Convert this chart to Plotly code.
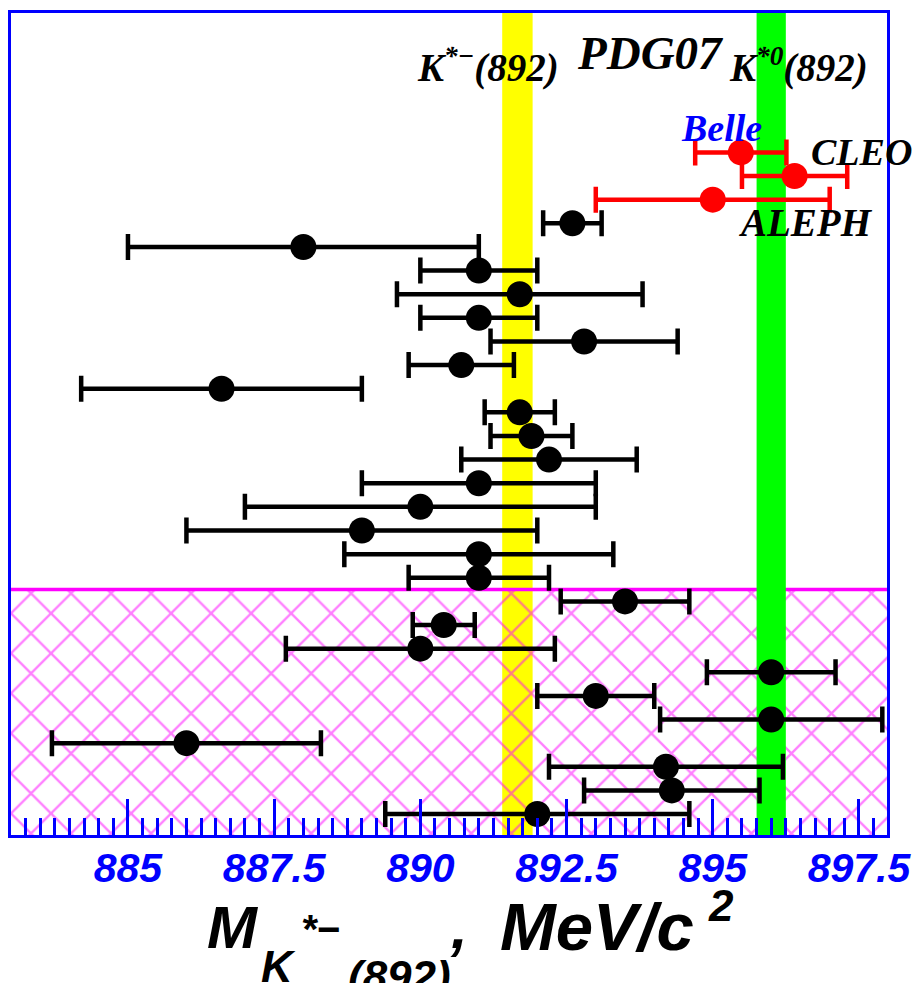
import plotly.graph_objects as go

# ---------------- data (MeV/c^2) ----------------
# PDG 2007 averages
pdg_charged_mass = 891.66
pdg_charged_err = 0.26
pdg_neutral_mass = 896.00
pdg_neutral_err = 0.25

# tau-decay measurements (red), listed top to bottom
tau_labels = ["Belle", "CLEO", "ALEPH"]
tau_mass = [895.48, 896.40, 895.00]
tau_err = [0.78, 0.90, 2.00]

# other K*(892)- mass measurements (black), listed top to bottom
other_mass = [892.6, 888.0, 891.0, 891.7, 891.0, 892.8, 890.7, 886.6, 891.7,
              891.9, 892.2, 891.0, 890.0, 889.0, 891.0, 891.0, 893.5, 890.4,
              890.0, 896.0, 893.0, 896.0, 886.0, 894.2, 894.3, 892.0]
other_err = [0.5, 3.0, 1.0, 2.1, 1.0, 1.6, 0.9, 2.4, 0.6,
             0.7, 1.5, 2.0, 3.0, 3.0, 2.3, 1.2, 1.1, 0.53,
             2.3, 1.1, 1.0, 1.9, 2.3, 2.0, 1.5, 2.6]

# number of rows below the magenta line (hatched region)
n_hatched_rows = 10

x_tick_vals = [885, 887.5, 890, 892.5, 895, 897.5]
x_tick_text = ["885", "887.5", "890", "892.5", "895", "897.5"]

# ---------------- layout helpers ----------------
n_rows = len(tau_mass) + len(other_mass)
rows = list(range(n_rows - 1, -1, -1))
tau_rows = rows[:len(tau_mass)]
other_rows = rows[len(tau_mass):]

X_RANGE = [883.0, 897.98]
Y_RANGE = [-0.886, 33.90]
hatch_top = n_hatched_rows - 0.5

BLUE = "#0000FF"
SERIF = "Liberation Serif"
SANS = "Liberation Sans"

# page body has an 8px margin; figure is sized to fit the window exactly
PAGE_OFF = 8
FIG_W, FIG_H = 921 - 2 * PAGE_OFF, 991 - 2 * PAGE_OFF
L, T, W, H = 3, 2, 878, 825

fig = go.Figure()


def band(center, half, color):
    x0, x1 = center - half, center + half
    return go.Scatter(x=[x0, x1, x1, x0, x0],
                      y=[Y_RANGE[0], Y_RANGE[0], Y_RANGE[1], Y_RANGE[1], Y_RANGE[0]],
                      mode="lines", fill="toself", fillcolor=color,
                      line=dict(width=0, color=color), hoverinfo="skip",
                      showlegend=False)


# yellow PDG K*- band (under the hatch)
fig.add_trace(band(pdg_charged_mass, pdg_charged_err, "#FFFF00"))

# hatched region
fig.add_trace(go.Scatter(
    x=[X_RANGE[0], X_RANGE[1], X_RANGE[1], X_RANGE[0], X_RANGE[0]],
    y=[Y_RANGE[0], Y_RANGE[0], hatch_top, hatch_top, Y_RANGE[0]],
    mode="lines", fill="toself", fillcolor="rgba(0,0,0,0)",
    fillpattern=dict(shape="x", fgcolor="#FF00FF", bgcolor="rgba(0,0,0,0)",
                     size=28.3, solidity=0.16, fillmode="overlay"),
    line=dict(width=0, color="rgba(0,0,0,0)"), hoverinfo="skip", showlegend=False))

# magenta separating line
fig.add_trace(go.Scatter(x=X_RANGE, y=[hatch_top, hatch_top], mode="lines",
                         line=dict(color="#FF00FF", width=3.5),
                         hoverinfo="skip", showlegend=False))

# green PDG K*0 band (over the hatch)
fig.add_trace(band(pdg_neutral_mass, pdg_neutral_err, "#00FF00"))

# black measurements
fig.add_trace(go.Scatter(
    x=other_mass, y=other_rows, mode="markers",
    marker=dict(color="black", size=26, line=dict(width=0)),
    error_x=dict(type="data", array=other_err, color="black", thickness=4.5, width=13),
    showlegend=False))

# red tau measurements
fig.add_trace(go.Scatter(
    x=tau_mass, y=tau_rows, mode="markers",
    marker=dict(color="#FF0000", size=26, line=dict(width=0)),
    error_x=dict(type="data", array=tau_err, color="#FF0000", thickness=4.5, width=13),
    showlegend=False))


# ---------------- annotations (positions given in window pixels) ----------------
def px(x):
    return (x - PAGE_OFF - L) / W


def py(y):
    return (T + H - (y - PAGE_OFF)) / H


def note(text, x, y, size, family, color="black"):
    fig.add_annotation(text=text, x=px(x), y=py(y), xref="paper", yref="paper",
                       xanchor="left", yanchor="middle", showarrow=False,
                       font=dict(size=size, family=family, color=color,
                                 weight="bold", style="italic"),
                       borderpad=0)


note("K<sup>*−</sup>(892)", 417, 63, 39, SERIF)
note("PDG07", 577, 50, 47, SERIF)
note("K<sup>*0</sup>(892)", 730, 63, 39, SERIF)
note(tau_labels[0], 682, 125, 38, SERIF, BLUE)
note(tau_labels[1], 812, 150, 38, SERIF)
note(tau_labels[2], 739, 220, 39, SERIF)

# axis title  M_{K^{*-}(892)}, MeV/c^2
note("M", 206, 928, 60, SANS)
note("K", 261, 967, 44, SANS)
note("*−", 301, 929, 40, SANS)
note("(892)", 348, 977, 44, SANS)
note(",", 450, 928, 60, SANS)
note("MeV/c", 500, 927, 67, SANS)
note("2", 709, 906, 44, SANS)

# ---------------- axes ----------------
fig.update_xaxes(range=X_RANGE, showgrid=False, zeroline=False,
                 showline=True, linecolor=BLUE, linewidth=3, mirror=True,
                 tickmode="array", tickvals=x_tick_vals, ticktext=x_tick_text,
                 ticks="inside", ticklen=36, tickwidth=3, tickcolor=BLUE,
                 ticklabelstandoff=-5, ticklabeloverflow="allow",
                 tickfont=dict(size=41, family=SANS, color=BLUE,
                               weight="bold", style="italic"),
                 minor=dict(dtick=0.25, tick0=883, ticks="inside", ticklen=17,
                            tickwidth=3, tickcolor=BLUE, showgrid=False))
fig.update_yaxes(range=Y_RANGE, showgrid=False, zeroline=False,
                 showline=True, linecolor=BLUE, linewidth=3, mirror=True,
                 showticklabels=False, ticks="")

fig.update_layout(width=FIG_W, height=FIG_H,
                  margin=dict(l=L, r=FIG_W - L - W, t=T, b=FIG_H - T - H),
                  plot_bgcolor="white", paper_bgcolor="white",
                  showlegend=False)

fig.write_html("out.html")
